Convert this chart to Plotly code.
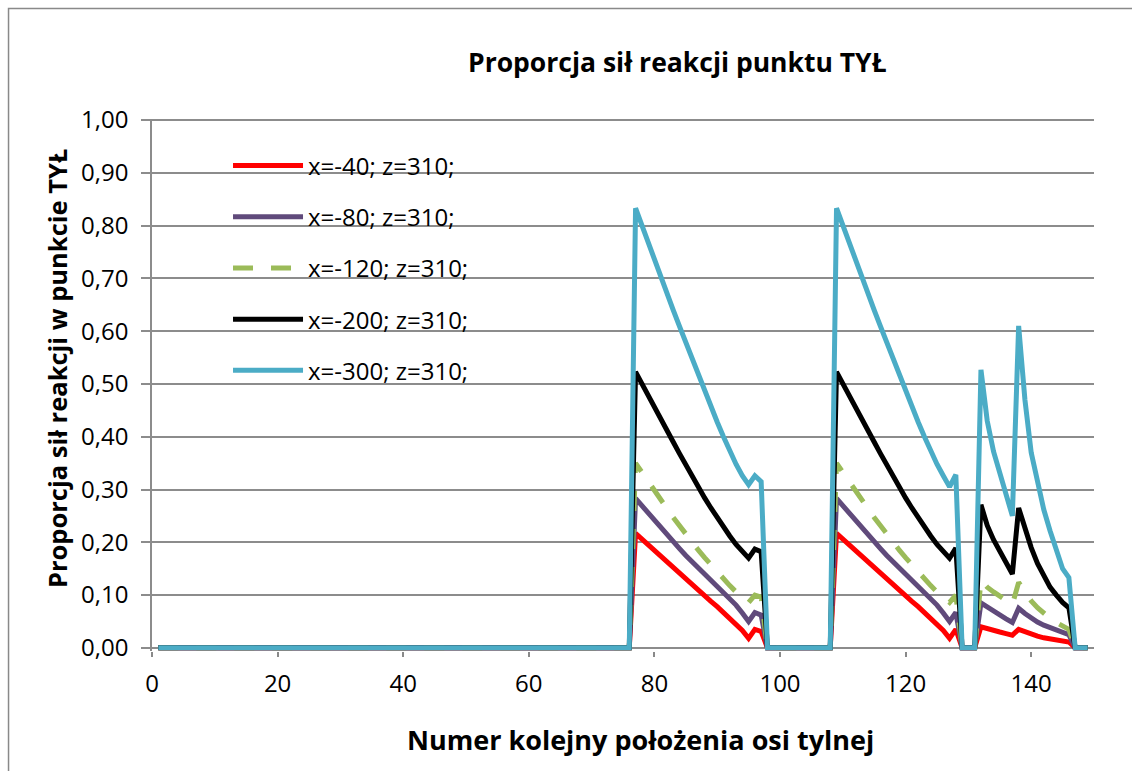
import plotly.graph_objects as go

# ---------------- data ----------------
x_positions = list(range(1, 150))

# first window (positions 77..97)
seg_a_start = 77
red_a = [0.217, 0.206, 0.195, 0.184, 0.173, 0.162, 0.151, 0.140, 0.130, 0.119, 0.109,
         0.098, 0.088, 0.078, 0.067, 0.057, 0.046, 0.033, 0.018, 0.035, 0.031]
purple_a = [0.283, 0.269, 0.255, 0.241, 0.227, 0.214, 0.201, 0.188, 0.175, 0.163, 0.151,
            0.139, 0.127, 0.116, 0.105, 0.094, 0.081, 0.066, 0.050, 0.067, 0.062]
green_a = [0.350, 0.332, 0.315, 0.298, 0.281, 0.264, 0.247, 0.231, 0.215, 0.200, 0.185,
           0.171, 0.157, 0.144, 0.131, 0.118, 0.106, 0.095, 0.086, 0.100, 0.096]
black_a = [0.523, 0.500, 0.478, 0.456, 0.434, 0.412, 0.390, 0.368, 0.346, 0.325, 0.304,
           0.284, 0.265, 0.246, 0.229, 0.212, 0.196, 0.182, 0.170, 0.187, 0.182]
blue_a = [0.833, 0.800, 0.767, 0.735, 0.703, 0.671, 0.640, 0.609, 0.578, 0.547, 0.516,
          0.486, 0.457, 0.428, 0.400, 0.373, 0.348, 0.326, 0.309, 0.326, 0.315]

# second window (positions 109..128)
seg_b_start = 109
red_b = [0.217, 0.206, 0.195, 0.184, 0.173, 0.162, 0.151, 0.140, 0.130, 0.119, 0.109,
         0.098, 0.088, 0.078, 0.067, 0.057, 0.046, 0.033, 0.018, 0.035]
purple_b = [0.283, 0.269, 0.255, 0.241, 0.227, 0.214, 0.201, 0.188, 0.175, 0.163, 0.151,
            0.139, 0.127, 0.116, 0.105, 0.094, 0.081, 0.066, 0.050, 0.067]
green_b = [0.350, 0.332, 0.315, 0.298, 0.281, 0.264, 0.247, 0.231, 0.215, 0.200, 0.185,
           0.171, 0.157, 0.144, 0.131, 0.118, 0.106, 0.095, 0.086, 0.100]
black_b = [0.523, 0.500, 0.478, 0.456, 0.434, 0.412, 0.390, 0.368, 0.346, 0.325, 0.304,
           0.284, 0.265, 0.246, 0.229, 0.212, 0.196, 0.182, 0.170, 0.189]
blue_b = [0.833, 0.800, 0.767, 0.735, 0.703, 0.671, 0.640, 0.609, 0.578, 0.547, 0.516,
          0.486, 0.457, 0.428, 0.400, 0.373, 0.348, 0.326, 0.305, 0.328]

# third window (positions 132..146)
seg_c_start = 132
red_c = [0.040, 0.036, 0.033, 0.030, 0.027, 0.024, 0.035, 0.030, 0.026, 0.022, 0.019,
         0.017, 0.015, 0.013, 0.011]
purple_c = [0.085, 0.077, 0.069, 0.062, 0.055, 0.048, 0.075, 0.065, 0.056, 0.049, 0.043,
            0.038, 0.033, 0.029, 0.025]
green_c = [0.128, 0.115, 0.106, 0.098, 0.090, 0.082, 0.124, 0.105, 0.089, 0.076, 0.065,
           0.056, 0.048, 0.041, 0.035]
black_c = [0.271, 0.232, 0.205, 0.182, 0.160, 0.140, 0.265, 0.225, 0.190, 0.160, 0.135,
           0.115, 0.100, 0.086, 0.076]
blue_c = [0.527, 0.430, 0.372, 0.330, 0.287, 0.250, 0.610, 0.470, 0.370, 0.310, 0.262,
          0.222, 0.183, 0.150, 0.133]

series_names = ["x=-40; z=310;", "x=-80; z=310;", "x=-120; z=310;",
                "x=-200; z=310;", "x=-300; z=310;"]
series_colors = ["#FF0000", "#604A7B", "#9BBB59", "#000000", "#4BACC6"]
series_dash = ["solid", "solid", "20px,18px", "solid", "solid"]
segments = [
    (red_a, red_b, red_c),
    (purple_a, purple_b, purple_c),
    (green_a, green_b, green_c),
    (black_a, black_b, black_c),
    (blue_a, blue_b, blue_c),
]


def full_series(a, b, c):
    y = [0.0] * len(x_positions)
    for start, seg in ((seg_a_start, a), (seg_b_start, b), (seg_c_start, c)):
        for i, v in enumerate(seg):
            y[start - x_positions[0] + i] = v
    return y


FONT = "Open Sans"

fig = go.Figure()
for k, (name, color, dash, segs) in enumerate(zip(series_names, series_colors, series_dash, segments)):
    fig.add_trace(go.Scatter(
        x=x_positions, y=full_series(*segs), mode="lines", name=name,
        legendgroup=f"g{k}",
        line=dict(color=color, width=5, dash=dash),
    ))

# outer chart frame
fig.add_shape(type="rect", xref="paper", yref="paper",
              x0=-0.1523, x1=1.06, y0=-0.26, y1=1.2077,
              line=dict(color="#898989", width=1.5), layer="below")

fig.add_annotation(text="<b>Proporcja sił reakcji punktu TYŁ</b>", xref="paper", yref="paper",
                   x=0.558, y=1.107, xanchor="center", yanchor="middle", showarrow=False,
                   font=dict(family=FONT, size=26.5, color="#000000"))
fig.add_annotation(text="<b>Numer kolejny położenia osi tylnej</b>", xref="paper", yref="paper",
                   x=0.519, y=-0.167, xanchor="center", yanchor="middle", showarrow=False,
                   font=dict(family=FONT, size=27, color="#000000"))
fig.add_annotation(text="<b>Proporcja sił reakcji w punkcie TYŁ</b>", xref="paper", yref="paper",
                   x=-0.1008, y=0.530, xanchor="center", yanchor="middle", showarrow=False,
                   textangle=-90, font=dict(family=FONT, size=25.5, color="#000000"))

fig.update_layout(
    width=1132, height=771,
    margin=dict(l=152, r=38, t=119, b=120),
    paper_bgcolor="white", plot_bgcolor="white",
    separators=", ",
    font=dict(family=FONT, size=24, color="#000000"),
    showlegend=True,
    legend=dict(x=0.0807, y=0.954, xanchor="left", yanchor="top",
                bgcolor="rgba(255,255,255,0)", font=dict(family=FONT, size=24),
                tracegroupgap=17, itemwidth=70),
    xaxis=dict(range=[0, 150], tick0=0, dtick=20, showgrid=False, zeroline=False,
               showline=False, ticks="outside", ticklen=5, tickwidth=1.5,
               tickcolor="#898989", ticklabelstandoff=6,
               tickfont=dict(family=FONT, size=24)),
    yaxis=dict(range=[-0.006, 1.002], tick0=0, dtick=0.1, tickformat=".2f",
               showgrid=True, gridcolor="#8C8C8C", gridwidth=1.5,
               zeroline=True, zerolinecolor="#8C8C8C", zerolinewidth=1.5,
               showline=True, linecolor="#8C8C8C", linewidth=1.5,
               ticks="outside", ticklen=9, tickwidth=1.5, tickcolor="#8C8C8C",
               ticklabelstandoff=8, tickfont=dict(family=FONT, size=24)),
)

fig.write_html("out.html")
